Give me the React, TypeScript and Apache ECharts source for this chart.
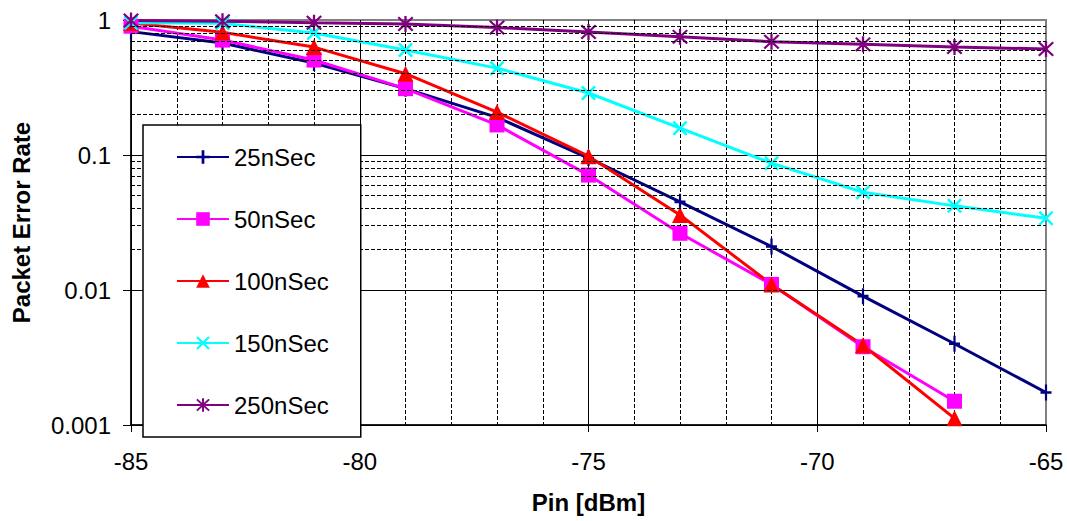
import { useEffect, useRef } from 'react';
import * as echarts from 'echarts';

const FONT = '"Liberation Sans", Arial, Helvetica, sans-serif';

// X categories (Pin in dBm)
const pinDbm = [-85, -83, -81, -79, -77, -75, -73, -71, -69, -67, -65];
const seriesNames = ['25nSec', '50nSec', '100nSec', '150nSec', '250nSec'];
const seriesColors = ['#000080', '#FF00FF', '#FF0000', '#00FFFF', '#800080'];

// Packet error rate values
const per25 = [0.82, 0.675, 0.48, 0.31, 0.19, 0.095, 0.045, 0.021, 0.009, 0.004, 0.00174];
const per50 = [0.9, 0.71, 0.505, 0.31, 0.167, 0.071, 0.0263, 0.011, 0.0038, 0.0015];
const per100 = [0.95, 0.81, 0.63, 0.4, 0.208, 0.098, 0.036, 0.011, 0.0039, 0.00112];
const per150 = [0.955, 0.945, 0.8, 0.6, 0.44, 0.288, 0.158, 0.087, 0.053, 0.042, 0.034];
const per250 = [0.99, 0.98, 0.955, 0.935, 0.88, 0.815, 0.75, 0.69, 0.66, 0.63, 0.61];

// Minor horizontal gridline values on the log axis
const minorGridValues = [
  0.002, 0.003, 0.004, 0.005, 0.006, 0.007, 0.008, 0.009,
  0.02, 0.03, 0.04, 0.05, 0.06, 0.07, 0.08, 0.09,
  0.2, 0.3, 0.4, 0.5, 0.6, 0.7, 0.8, 0.9,
];

const PLUS = 'path://M4.8,0 H7.2 V5 H12 V7 H7.2 V12 H4.8 V7 H0 V5 H4.8 Z';
const CROSS =
  'path://M0,1.4 L1.4,0 L6,4.6 L10.6,0 L12,1.4 L7.4,6 L12,10.6 L10.6,12 L6,7.4 L1.4,12 L0,10.6 L4.6,6 Z';
const ASTER =
  'path://M5.2,0 H6.8 V12 H5.2 Z M0.4,1.5 L1.5,0.4 L6,4.9 L10.5,0.4 L11.6,1.5 L7.1,6 L11.6,10.5 L10.5,11.6 L6,7.1 L1.5,11.6 L0.4,10.5 L4.9,6 Z';

const seriesValues = [per25, per50, per100, per150, per250];
const seriesSymbols = [PLUS, 'rect', 'triangle', CROSS, ASTER];
const seriesSymbolSizes: any[] = [[11, 16], 15, 16, 15, 16];

export default function App() {
  const ref = useRef<HTMLDivElement>(null);

  useEffect(() => {
    if (!ref.current) return;
    const chart = echarts.init(ref.current, null, { renderer: 'svg' });

    const dataSeries = seriesNames.map((name, si) => ({
      name,
      type: 'line',
      z: 3,
      data: seriesValues[si].map((v, i) => [pinDbm[i], v]),
      symbol: seriesSymbols[si],
      symbolSize: seriesSymbolSizes[si],
      showAllSymbol: true,
      lineStyle: { color: seriesColors[si], width: 3 },
      itemStyle: { color: seriesColors[si], borderWidth: 0 },
      emphasis: { disabled: true },
    }));

    const option: any = {
      animation: false,
      backgroundColor: '#ffffff',
      textStyle: { fontFamily: FONT },
      grid: {
        left: 131,
        right: 21,
        top: 20,
        bottom: 96,
        show: true,
        borderColor: '#808080',
        borderWidth: 2,
        backgroundColor: 'transparent',
      },
      xAxis: {
        type: 'value',
        min: -85,
        max: -65,
        interval: 5,
        name: 'Pin [dBm]',
        nameLocation: 'middle',
        nameGap: 65,
        nameTextStyle: { fontSize: 24, fontWeight: 'bold', color: '#000', fontFamily: FONT },
        axisLine: { show: true, onZero: false, lineStyle: { color: '#000', width: 1.5 } },
        axisTick: { show: true, inside: false, length: 7, lineStyle: { color: '#000', width: 1 } },
        axisLabel: { color: '#000', fontSize: 24, fontFamily: FONT, margin: 24 },
        splitLine: { show: true, showMaxLine: false, lineStyle: { color: '#000', width: 1 } },
        minorTick: { show: false, splitNumber: 5 },
        minorSplitLine: { show: true, lineStyle: { color: '#000', width: 1, type: [4, 2] } },
      },
      yAxis: {
        type: 'log',
        logBase: 10,
        min: 0.001,
        max: 1,
        name: 'Packet Error Rate',
        nameLocation: 'middle',
        nameRotate: 90,
        nameGap: 98,
        nameTextStyle: { fontSize: 24, fontWeight: 'bold', color: '#000', fontFamily: FONT },
        axisLine: { show: true, lineStyle: { color: '#000', width: 1.5 } },
        axisTick: { show: true, inside: false, length: 8, lineStyle: { color: '#000', width: 1 } },
        axisLabel: { color: '#000', fontSize: 24, fontFamily: FONT, margin: 20 },
        splitLine: { show: true, showMaxLine: false, lineStyle: { color: '#000', width: 1 } },
      },
      legend: {
        data: seriesNames,
        orient: 'vertical',
        left: 143,
        top: 125,
        itemWidth: 52,
        itemHeight: 17,
        itemGap: 38,
        padding: [20, 32, 20, 33],
        backgroundColor: '#ffffff',
        borderColor: '#000',
        borderWidth: 1.5,
        textStyle: { fontSize: 24, color: '#000', fontFamily: FONT },
        selectedMode: false,
        z: 10,
      },
      series: [
        {
          type: 'line',
          z: 1,
          data: [],
          silent: true,
          markLine: {
            silent: true,
            symbol: ['none', 'none'],
            label: { show: false },
            lineStyle: { color: '#000', width: 1, type: [4, 2] },
            emphasis: { disabled: true },
            data: minorGridValues.map((v) => ({ yAxis: v })),
          },
        },
        ...dataSeries,
      ],
    };

    chart.setOption(option);
    return () => chart.dispose();
  }, []);

  return (
    <div
      ref={ref}
      style={{ position: 'fixed', left: 0, top: 0, width: 1067, height: 521, background: '#fff' }}
    />
  );
}
